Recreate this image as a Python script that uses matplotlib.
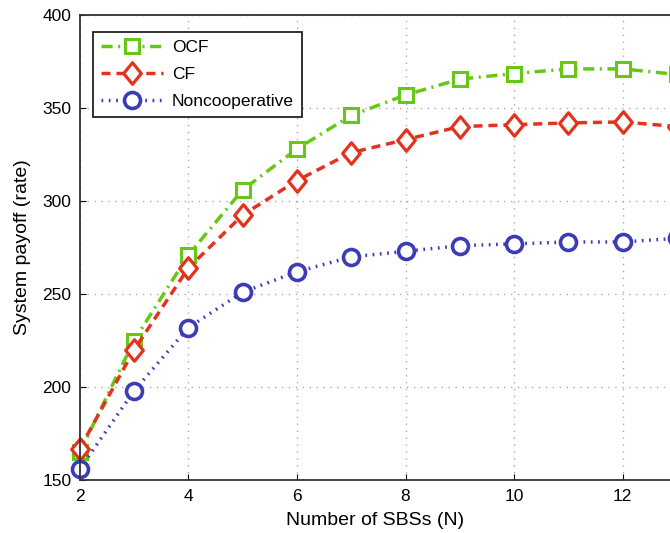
import matplotlib
matplotlib.use('Agg')
import matplotlib.pyplot as plt
from matplotlib.path import Path

# values
n_sbs = [2, 3, 4, 5, 6, 7, 8, 9, 10, 11, 12, 13]
ocf = [165, 225, 271, 306, 328, 346, 357, 365.5, 368.5, 371, 371, 368]
cf = [167, 220, 264, 292.5, 311, 326, 333, 340, 341, 342, 342.5, 340]
noncoop = [156, 198, 232, 251, 262, 270, 273, 276, 277, 278, 278, 280]

x_ticks = [2, 4, 6, 8, 10, 12]
y_ticks = [150, 200, 250, 300, 350, 400]

plt.rcParams['font.family'] = ['Liberation Sans', 'DejaVu Sans']

# MATLAB-like diamond (a bit taller than wide)
diamond = Path([(0, 1), (0.82, 0), (0, -1), (-0.82, 0), (0, 1)],
               [Path.MOVETO, Path.LINETO, Path.LINETO, Path.LINETO, Path.CLOSEPOLY])

fig = plt.figure(figsize=(6.7, 5.33), dpi=100)
ax = fig.add_axes([0.119, 0.099, 0.881, 0.873])

ax.plot(n_sbs, ocf, linestyle='-.', dashes=(3.2, 1.6, 0.6, 1.6), color='#66c814', linewidth=2.5,
        marker='s', markersize=10, markerfacecolor='white', markeredgewidth=2.2,
        label='OCF', clip_on=False)
ax.plot(n_sbs, cf, linestyle='--', dashes=(2.6, 1.7), color='#e3321e', linewidth=2.5,
        marker=diamond, markersize=15.5, markerfacecolor='white', markeredgewidth=2.3,
        label='CF', clip_on=False)
ax.plot(n_sbs, noncoop, linestyle=':', dashes=(0.5, 1.6), color='#3c3cb4', linewidth=2.5,
        marker='o', markersize=11.5, markerfacecolor='white', markeredgewidth=2.6,
        label='Noncooperative', clip_on=False)

ax.set_xlim(2, 12.87)
ax.set_ylim(150, 400)
ax.set_xticks(x_ticks)
ax.set_yticks(y_ticks)
ax.tick_params(direction='in', labelsize=12.5, length=4, pad=6)
ax.grid(True, linestyle=(0, (1, 4)), color='#aaaaaa', linewidth=1)
ax.spines['right'].set_visible(False)
for s in ['left', 'top', 'bottom']:
    ax.spines[s].set_color('#333333')
    ax.spines[s].set_linewidth(1.3)

ax.set_xlabel('Number of SBSs (N)', fontsize=14, labelpad=6)
ax.set_ylabel('System payoff (rate)', fontsize=14, labelpad=8)

leg = ax.legend(loc='upper left', bbox_to_anchor=(0.022, 0.964), fontsize=12.5,
                fancybox=False, edgecolor='#222222', framealpha=1,
                handlelength=3.6, borderpad=0.45, labelspacing=0.7,
                handletextpad=0.5, borderaxespad=0)
leg.get_frame().set_linewidth(1.3)

fig.savefig('out.png', dpi=100)
